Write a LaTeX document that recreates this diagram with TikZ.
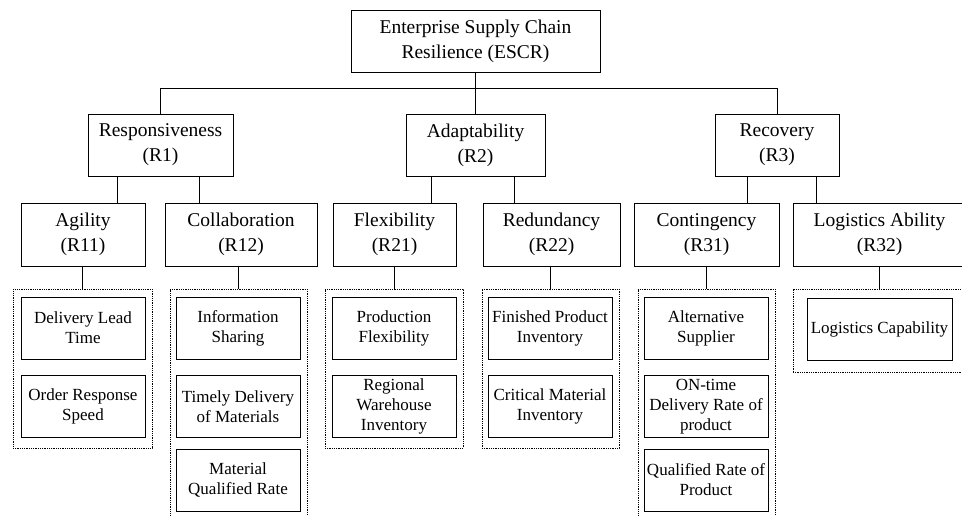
\documentclass[tikz,border=0pt]{standalone}
\usepackage{fontspec}
\setmainfont{Liberation Serif}
\begin{document}
\begin{tikzpicture}[x=1pt,y=-1pt,
  lvl/.style={draw, line width=0.9pt, align=center, inner sep=1pt,
    font=\fontsize{19.5}{25}\selectfont},
  leaf/.style={draw, line width=0.9pt, align=center, inner sep=1pt,
    minimum width=124pt, minimum height=62pt,
    font=\fontsize{17}{20}\selectfont},
  grp/.style={draw, line width=0.8pt, dash pattern=on 1pt off 0.8pt, inner sep=0pt},
  conn/.style={draw, line width=0.9pt}]
\useasboundingbox (0,0) rectangle (962,516);
\clip (0,0) rectangle (962,516);

% root
\node[lvl, minimum width=249pt, minimum height=62pt] (top) at (475.5,41) {Enterprise Supply Chain\\Resilience (ESCR)};

% level 1
\node[lvl, minimum width=145pt, minimum height=62pt] (R1) at (160.5,145) {Responsiveness\\(R1)};
\node[lvl, minimum width=139pt, minimum height=62pt] (R2) at (475.5,145) {Adaptability\\(R2)};
\node[lvl, minimum width=124pt, minimum height=62pt] (R3) at (777,145) {Recovery\\(R3)};

% level 2
\node[lvl, minimum width=124pt, minimum height=63pt] (R11) at (83,234.5) {Agility\\(R11)};
\node[lvl, minimum width=152pt, minimum height=63pt] (R12) at (241,234.5) {Collaboration\\(R12)};
\node[lvl, minimum width=123pt, minimum height=63pt] (R21) at (394.5,234.5) {Flexibility\\(R21)};
\node[lvl, minimum width=137pt, minimum height=63pt] (R22) at (551.5,234.5) {Redundancy\\(R22)};
\node[lvl, minimum width=145pt, minimum height=63pt] (R31) at (706.5,234.5) {Contingency\\(R31)};
\node[lvl, minimum width=173pt, minimum height=63pt] (R32) at (879.5,234.5) {Logistics Ability\\(R32)};

% groups
\node[grp, minimum width=139pt, minimum height=159pt] (g1) at (82.5,368.5) {};
\node[grp, minimum width=137pt, minimum height=233pt] (g2) at (238.5,405.5) {};
\node[grp, minimum width=138pt, minimum height=159pt] (g3) at (394,368.5) {};
\node[grp, minimum width=137pt, minimum height=159pt] (g4) at (550.5,368.5) {};
\node[grp, minimum width=137pt, minimum height=233pt] (g5) at (706.5,405.5) {};
\node[grp, minimum width=173pt, minimum height=83pt] (g6) at (879.5,330.5) {};

% leaves
\node[leaf] (a1) at (83,328) {Delivery Lead\\Time};
\node[leaf] (a2) at (83,406.5) {Order Response\\Speed};
\node[leaf] (b1) at (238,328) {Information\\Sharing};
\node[leaf] (b2) at (238,406.5) {Timely Delivery\\of Materials};
\node[leaf] (b3) at (238,480) {Material\\Qualified Rate};
\node[leaf] (c1) at (394,328.5) {Production\\Flexibility};
\node[leaf] (c2) at (394,406.5) {Regional\\Warehouse\\Inventory};
\node[leaf] (d1) at (550,328.5) {Finished Product\\Inventory};
\node[leaf] (d2) at (550,406.5) {Critical Material\\Inventory};
\node[leaf] (e1) at (706,328.5) {Alternative\\Supplier};
\node[leaf] (e2) at (706,406.5) {ON-time\\Delivery Rate of\\product};
\node[leaf] (e3) at (706,480) {Qualified Rate of\\Product};
\node[leaf, minimum width=145pt] (f1) at (879.5,329) {Logistics Capability};

% connectors root -> level 1
\draw[conn] (top.south) -- (R2.north);
\draw[conn] (R1.north) -- ++(0,-25) -| (R3.north);

% level 1 -> level 2
\coordinate (x11) at (117,0);
\coordinate (x12) at (199,0);
\coordinate (x21) at (431,0);
\coordinate (x22) at (514,0);
\coordinate (x31) at (747,0);
\coordinate (x32) at (816,0);
\draw[conn] (x11 |- R1.south) -- (x11 |- R11.north);
\draw[conn] (x12 |- R1.south) -- (x12 |- R12.north);
\draw[conn] (x21 |- R2.south) -- (x21 |- R21.north);
\draw[conn] (x22 |- R2.south) -- (x22 |- R22.north);
\draw[conn] (x31 |- R3.south) -- (x31 |- R31.north);
\draw[conn] (x32 |- R3.south) -- (x32 |- R32.north);

% level 2 -> groups
\draw[conn] (g1.north |- R11.south) -- (g1.north);
\draw[conn] (g2.north |- R12.south) -- (g2.north);
\draw[conn] (g3.north |- R21.south) -- (g3.north);
\draw[conn] (g4.north |- R22.south) -- (g4.north);
\draw[conn] (g5.north |- R31.south) -- (g5.north);
\draw[conn] (g6.north |- R32.south) -- (g6.north);
\end{tikzpicture}
\end{document}
